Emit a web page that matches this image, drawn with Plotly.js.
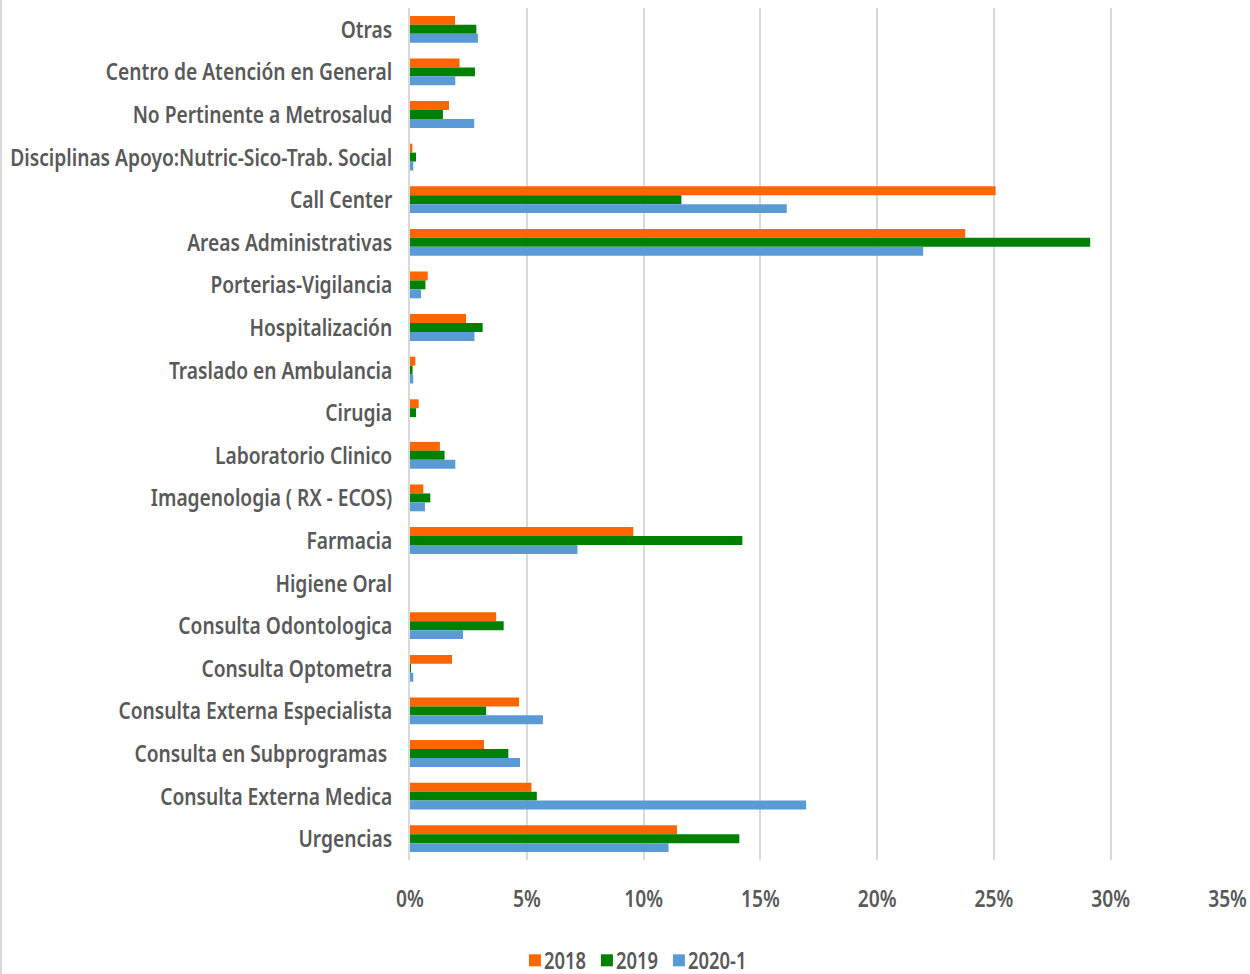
<!DOCTYPE html>
<html>
<head>
<meta charset="utf-8">
<script src="https://cdn.plot.ly/plotly-3.0.1.min.js"></script>
<style>
  html, body { margin: 0; padding: 0; background: #ffffff; }
  #chart { width: 1248px; height: 974px; border-left: 2px solid #d9d9d9; }
</style>
</head>
<body>
<div id="chart"></div>
<script>
// Categories, listed from top to bottom of the chart
const categories = [
  "Otras",
  "Centro de Atención en General",
  "No Pertinente a Metrosalud",
  "Disciplinas Apoyo:Nutric-Sico-Trab. Social",
  "Call Center",
  "Areas Administrativas",
  "Porterias-Vigilancia",
  "Hospitalización",
  "Traslado en Ambulancia",
  "Cirugia",
  "Laboratorio Clinico",
  "Imagenologia ( RX - ECOS)",
  "Farmacia",
  "Higiene Oral",
  "Consulta Odontologica",
  "Consulta Optometra",
  "Consulta Externa Especialista",
  "Consulta en Subprogramas ",
  "Consulta Externa Medica",
  "Urgencias"
];

// Share of complaints per area (fraction of total)
const values2018 = [0.0193, 0.0212, 0.0167, 0.0010, 0.2507, 0.2377, 0.0076, 0.0240, 0.0023, 0.0037, 0.0128, 0.0057, 0.0956, 0, 0.0369, 0.0180, 0.0467, 0.0317, 0.0520, 0.1143];
const values2019 = [0.0284, 0.0278, 0.0141, 0.0026, 0.1162, 0.2912, 0.0066, 0.0311, 0.0011, 0.0026, 0.0148, 0.0087, 0.1423, 0, 0.0401, 0.0004, 0.0326, 0.0421, 0.0543, 0.1410];
const values2020 = [0.0291, 0.0194, 0.0275, 0.0014, 0.1613, 0.2197, 0.0047, 0.0276, 0.0014, 0, 0.0194, 0.0064, 0.0717, 0, 0.0227, 0.0014, 0.0569, 0.0471, 0.1696, 0.1107];

const seriesNames = ["2018", "2019", "2020-1"];
const seriesColors = ["#ff6600", "#008000", "#5b9bd5"];
const seriesValues = [values2018, values2019, values2020];

const xTicks = [0, 0.05, 0.10, 0.15, 0.20, 0.25, 0.30, 0.35];

const textFont = "'Noto Sans', 'DejaVu Sans', sans-serif";
const textColor = "#595959";
const labelFont = { family: textFont, size: 24, color: textColor, weight: 600 };
const legendFont = { family: textFont, size: 23, color: textColor, weight: 600 };

// Horizontal squeeze applied to the text so it reads as a narrow face
const NARROW = 0.8;
// Legend labels sit close to their colour swatch
const LEGEND_TEXT_SHIFT = -11;

const traces = seriesNames.map((name, i) => ({
  type: "bar",
  orientation: "h",
  name: name,
  y: categories,
  x: seriesValues[i],
  marker: { color: seriesColors[i], line: { width: 0 } },
  hovertemplate: "%{y}: %{x:.1%}<extra>" + name + "</extra>"
}));

const layout = {
  width: 1248,
  height: 974,
  margin: { l: 408, r: 22, t: 8, b: 114, autoexpand: false },
  paper_bgcolor: "#ffffff",
  plot_bgcolor: "#ffffff",
  barmode: "group",
  bargap: 0.37,
  bargroupgap: 0,
  font: labelFont,
  xaxis: {
    range: [0, 0.3502],
    tickvals: xTicks,
    tickformat: ".0%",
    showgrid: true,
    gridcolor: "#d9d9d9",
    gridwidth: 2,
    zeroline: false,
    showline: false,
    ticks: "",
    ticklabelstandoff: 22,
    ticklabeloverflow: "allow",
    tickfont: labelFont,
    fixedrange: true
  },
  yaxis: {
    type: "category",
    autorange: "reversed",
    showgrid: false,
    zeroline: false,
    showline: true,
    linecolor: "#d9d9d9",
    linewidth: 2,
    ticks: "",
    ticklabelstandoff: 11,
    tickfont: labelFont,
    fixedrange: true
  },
  showlegend: true,
  legend: {
    orientation: "h",
    xref: "container",
    yref: "container",
    x: 0.411,
    xanchor: "left",
    y: 0.014,
    yanchor: "middle",
    font: legendFont,
    itemwidth: 30,
    entrywidth: 27,
    entrywidthmode: "pixels",
    tracegroupgap: 0
  }
};

// Squeeze each text element horizontally about its anchor point
function narrowText(gd) {
  const selectors = [".yaxislayer-above .ytick text", ".xaxislayer-above .xtick text", ".legend .legendtext"];
  gd.querySelectorAll(selectors.join(",")).forEach(t => {
    if (!t.hasAttribute("data-base-transform")) {
      t.setAttribute("data-base-transform", t.getAttribute("transform") || "");
    }
    const base = t.getAttribute("data-base-transform");
    const box = t.getBBox();
    const anchor = t.getAttribute("text-anchor") || "start";
    let px = box.x;
    if (anchor === "end") px = box.x + box.width;
    else if (anchor === "middle") px = box.x + box.width / 2;
    const shift = t.classList.contains("legendtext") ? LEGEND_TEXT_SHIFT : 0;
    t.setAttribute("transform",
      base + " translate(" + (px + shift) + ",0) scale(" + NARROW + ",1) translate(" + (-px) + ",0)");
  });
  // let the last legend label run past the compact legend box
  gd.querySelectorAll(".legend [clip-path]").forEach(el => el.removeAttribute("clip-path"));
}

const gd = document.getElementById("chart");
Plotly.newPlot(gd, traces, layout, { displayModeBar: false }).then(() => narrowText(gd));
</script>
</body>
</html>
